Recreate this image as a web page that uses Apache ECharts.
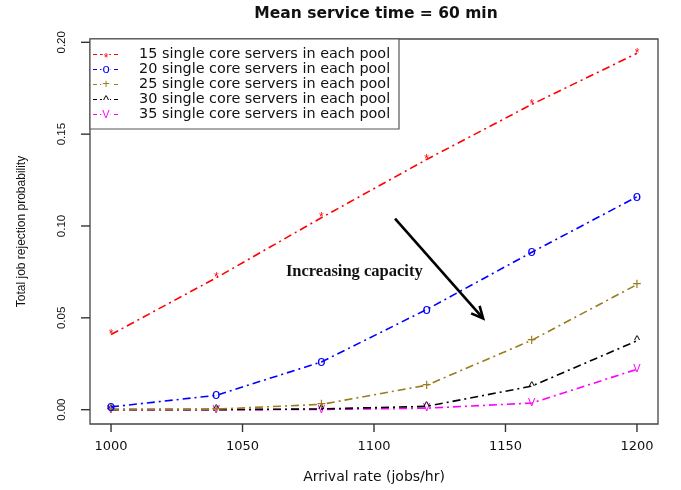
<!DOCTYPE html>
<html>
<head>
<meta charset="utf-8">
<title>Mean service time = 60 min</title>
<script src="https://cdn.jsdelivr.net/npm/echarts@6/dist/echarts.min.js"></script>
<style>
  html, body { margin: 0; padding: 0; background: #ffffff; }
  #chart { width: 681px; height: 490px; background: #ffffff; }
</style>
</head>
<body>
<div id="chart"></div>
<script>
// Arrival rates (jobs/hr) at which the rejection probability was evaluated
const arrivalRates = [1000, 1040, 1080, 1120, 1160, 1200];

// Total job rejection probability per pool size
const servers15 = [0.0409, 0.0718, 0.1045, 0.1362, 0.1662, 0.1940];
const servers20 = [0.0015, 0.0078, 0.0260, 0.0545, 0.0857, 0.1159];
const servers25 = [0.0000, 0.0003, 0.0029, 0.0133, 0.0378, 0.0681];
const servers30 = [0.0000, 0.0000, 0.0004, 0.0018, 0.0128, 0.0375];
const servers35 = [0.0000, 0.0000, 0.0001, 0.0008, 0.0036, 0.0220];

const seriesNames = [
  '15 single core servers in each pool',
  '20 single core servers in each pool',
  '25 single core servers in each pool',
  '30 single core servers in each pool',
  '35 single core servers in each pool'
];
const seriesValues = [servers15, servers20, servers25, servers30, servers35];
const seriesGlyphs = ['*', 'o', '+', '^', 'V'];

// Tick labels
const xTicks = [1000, 1050, 1100, 1150, 1200];
const yTicks = [0.00, 0.05, 0.10, 0.15, 0.20];

// Annotation
const annotationText = 'Increasing capacity';
const annotationAt = [1092.5, 0.0752];
const arrowFrom = [1108, 0.1040];
const arrowTo = [1141.5, 0.0497];

// Styling
const palette = ['#ff0000', '#0000ff', '#9a7b1e', '#000000', '#ff00ff'];
const glyphSizes = [12, 15, 16, 13, 11];
const glyphOffsets = [[0, 4], [0, 0], [0, 0], [0, 1], [0, 0]];
const dotDash = [8, 4, 2, 4];
const frameColor = '#444444';
const tickColor = '#333333';
const xRange = [992, 1208];
const yRange = [-0.0078, 0.2018];

const chart = echarts.init(document.getElementById('chart'), null, { renderer: 'canvas' });

const lineSeries = seriesNames.map((name, i) => ({
  name: name,
  type: 'line',
  data: arrivalRates.map((x, k) => [x, seriesValues[i][k]]),
  symbol: 'circle',
  symbolSize: 0.5,
  showSymbol: true,
  z: 10 - i,
  itemStyle: { color: palette[i] },
  lineStyle: { color: palette[i], width: 1.6, type: dotDash },
  label: {
    show: true,
    position: 'inside',
    offset: glyphOffsets[i],
    formatter: () => seriesGlyphs[i],
    color: palette[i],
    fontFamily: 'Liberation Sans, Arial, sans-serif',
    fontSize: glyphSizes[i],
    align: 'center',
    verticalAlign: 'middle'
  },
  labelLayout: { hideOverlap: false },
  emphasis: { disabled: true },
  silent: true
}));

// Outward tick marks, one custom item per labelled value
const tickSeries = [
  {
    type: 'custom',
    name: 'x ticks',
    silent: true,
    clip: false,
    z: 20,
    data: xTicks.map(v => [v, yRange[0]]),
    renderItem: (params, api) => {
      const p = api.coord([api.value(0), api.value(1)]);
      return {
        type: 'line',
        shape: { x1: p[0], y1: p[1], x2: p[0], y2: p[1] + 8 },
        style: { stroke: tickColor, lineWidth: 1.4 }
      };
    }
  },
  {
    type: 'custom',
    name: 'y ticks',
    silent: true,
    clip: false,
    z: 20,
    data: yTicks.map(v => [xRange[0], v]),
    renderItem: (params, api) => {
      const p = api.coord([api.value(0), api.value(1)]);
      return {
        type: 'line',
        shape: { x1: p[0], y1: p[1], x2: p[0] - 9, y2: p[1] },
        style: { stroke: tickColor, lineWidth: 1.4 }
      };
    }
  }
];

const option = {
  animation: false,
  title: {
    text: 'Mean service time = 60 min',
    left: 371,
    textAlign: 'center',
    top: 1,
    textStyle: {
      fontFamily: 'DejaVu Sans, sans-serif',
      fontWeight: 'bold',
      fontSize: 15.5,
      color: '#111111'
    }
  },
  grid: {
    left: 90, right: 23, top: 39, bottom: 66,
    show: true,
    borderColor: frameColor,
    borderWidth: 1.3,
    backgroundColor: 'transparent'
  },
  xAxis: {
    type: 'value',
    min: xRange[0],
    max: xRange[1],
    name: 'Arrival rate (jobs/hr)',
    nameLocation: 'middle',
    nameGap: 46,
    nameTextStyle: { fontFamily: 'DejaVu Sans, sans-serif', fontSize: 14, color: '#111111' },
    axisLine: { show: false, onZero: false },
    splitLine: { show: false },
    axisTick: { show: false },
    axisLabel: {
      customValues: xTicks,
      margin: 16,
      fontFamily: 'DejaVu Sans, sans-serif',
      fontSize: 13,
      color: '#111111',
      formatter: v => String(v)
    }
  },
  yAxis: {
    type: 'value',
    min: yRange[0],
    max: yRange[1],
    name: 'Total job rejection probability',
    nameLocation: 'middle',
    nameGap: 62,
    nameTextStyle: { fontFamily: 'Liberation Sans, Arial, sans-serif', fontSize: 12, color: '#111111' },
    axisLine: { show: false, onZero: false },
    splitLine: { show: false },
    axisTick: { show: false },
    axisLabel: {
      customValues: yTicks,
      rotate: 90,
      margin: 22,
      fontFamily: 'Liberation Sans, Arial, sans-serif',
      fontSize: 11.5,
      color: '#111111',
      formatter: v => v.toFixed(2)
    }
  },
  series: lineSeries.concat(tickSeries)
};

chart.setOption(option);

// Legend box in the top-left corner of the plotting region
function legendGraphics() {
  const left = 90, top = 39, width = 309, height = 90;
  const rowTop = 54.5, rowStep = 15;
  const elements = [{
    type: 'rect',
    shape: { x: left, y: top, width: width, height: height },
    style: { fill: '#ffffff', stroke: '#555555', lineWidth: 1.2 },
    z: 50
  }];
  seriesNames.forEach((name, i) => {
    const y = rowTop + i * rowStep;
    elements.push({
      type: 'line',
      shape: { x1: 93, y1: y, x2: 119, y2: y },
      style: { stroke: palette[i], lineWidth: 1.2, lineDash: [4, 3] },
      z: 51
    });
    elements.push({
      type: 'text',
      x: 106 + glyphOffsets[i][0], y: y + glyphOffsets[i][1],
      style: {
        text: seriesGlyphs[i],
        fill: palette[i],
        font: Math.min(glyphSizes[i], 13) + 'px "Liberation Sans", Arial, sans-serif',
        align: 'center',
        verticalAlign: 'middle',
        backgroundColor: '#ffffff',
        padding: [0, 1]
      },
      z: 52
    });
    elements.push({
      type: 'text',
      x: 139, y: y,
      style: {
        text: name,
        fill: '#111111',
        font: '14.4px "DejaVu Sans", sans-serif',
        align: 'left',
        verticalAlign: 'middle'
      },
      z: 52
    });
  });
  return elements;
}

// Arrow and caption placed in data coordinates
function annotationGraphics() {
  const p0 = chart.convertToPixel({ gridIndex: 0 }, arrowFrom);
  const p1 = chart.convertToPixel({ gridIndex: 0 }, arrowTo);
  const pt = chart.convertToPixel({ gridIndex: 0 }, annotationAt);
  const ang = Math.atan2(p1[1] - p0[1], p1[0] - p0[0]);
  const headLen = 13, headAng = Math.PI / 7;
  const h1 = [p1[0] - headLen * Math.cos(ang - headAng), p1[1] - headLen * Math.sin(ang - headAng)];
  const h2 = [p1[0] - headLen * Math.cos(ang + headAng), p1[1] - headLen * Math.sin(ang + headAng)];
  return [
    {
      type: 'line',
      shape: { x1: p0[0], y1: p0[1], x2: p1[0], y2: p1[1] },
      style: { stroke: '#000000', lineWidth: 2.6 },
      z: 40
    },
    {
      type: 'polyline',
      shape: { points: [h1, p1, h2] },
      style: { stroke: '#000000', lineWidth: 2.6, fill: null, lineJoin: 'miter' },
      z: 40
    },
    {
      type: 'text',
      x: pt[0], y: pt[1],
      style: {
        text: annotationText,
        fill: '#111111',
        font: 'bold 16.5px "Liberation Serif", "Times New Roman", serif',
        align: 'center',
        verticalAlign: 'middle'
      },
      z: 40
    }
  ];
}

chart.setOption({
  graphic: { elements: legendGraphics().concat(annotationGraphics()) }
});
</script>
</body>
</html>
